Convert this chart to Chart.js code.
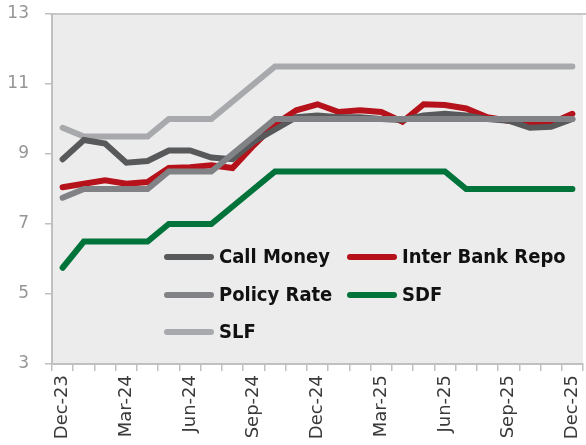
<!DOCTYPE html>
<html>
<head>
<meta charset="utf-8">
<script src="https://cdn.jsdelivr.net/npm/chart.js@4.4.1/dist/chart.umd.min.js"></script>
<style>
  html, body { margin: 0; padding: 0; background: #fff; }
  #wrap { width: 586px; height: 445px; }
</style>
</head>
<body>
<div id="wrap"><canvas id="rates"></canvas></div>
<script>
const months = ['Dec-23', 'Jan-24', 'Feb-24', 'Mar-24', 'Apr-24', 'May-24', 'Jun-24', 'Jul-24', 'Aug-24',
    'Sep-24', 'Oct-24', 'Nov-24', 'Dec-24', 'Jan-25', 'Feb-25', 'Mar-25', 'Apr-25', 'May-25', 'Jun-25',
    'Jul-25', 'Aug-25', 'Sep-25', 'Oct-25', 'Nov-25', 'Dec-25'];

const callMoney = [8.85, 9.4, 9.3, 8.75, 8.8, 9.1, 9.1, 8.9, 8.85, 9.35, 9.7, 10.05, 10.1,
    10.05, 10.05, 10.0, 9.97, 10.1, 10.15, 10.1, 10.0, 9.95, 9.75, 9.78, 10.0];
const interBankRepo = [8.05, 8.15, 8.25, 8.15, 8.2, 8.6, 8.62, 8.68, 8.6, 9.25, 9.85, 10.25, 10.42,
    10.2, 10.25, 10.2, 9.92, 10.42, 10.4, 10.3, 10.05, 9.95, 9.88, 9.88, 10.15];
const policyRate = [7.75, 8, 8, 8, 8, 8.5, 8.5, 8.5, 9, 9.5, 10, 10, 10,
    10, 10, 10, 10, 10, 10, 10, 10, 10, 10, 10, 10];
const sdf = [5.75, 6.5, 6.5, 6.5, 6.5, 7, 7, 7, 7.5, 8, 8.5, 8.5, 8.5,
    8.5, 8.5, 8.5, 8.5, 8.5, 8.5, 8, 8, 8, 8, 8, 8];
const slf = [9.75, 9.5, 9.5, 9.5, 9.5, 10, 10, 10, 10.5, 11, 11.5, 11.5, 11.5,
    11.5, 11.5, 11.5, 11.5, 11.5, 11.5, 11.5, 11.5, 11.5, 11.5, 11.5, 11.5];

const yTicks = [3, 5, 7, 9, 11, 13];

function line(label, data, color, order) {
    return {
        label: label,
        data: data,
        borderColor: color,
        backgroundColor: color,
        borderWidth: 6,
        pointRadius: 0,
        borderCapStyle: 'round',
        borderJoinStyle: 'miter',
        tension: 0,
        order: order
    };
}

// gray plot background + top border line
const plotBackground = {
    id: 'plotBackground',
    beforeDraw(chart) {
        const { ctx, chartArea: a } = chart;
        ctx.save();
        ctx.fillStyle = '#ececec';
        ctx.fillRect(a.left, a.top, a.right - a.left, a.bottom - a.top);
        ctx.strokeStyle = '#c8c8c8';
        ctx.lineWidth = 2;
        ctx.beginPath();
        ctx.moveTo(a.left, a.top);
        ctx.lineTo(chart.width, a.top);
        ctx.stroke();
        ctx.restore();
    }
};

// two-column legend drawn inside the plot
const innerLegend = {
    id: 'innerLegend',
    afterDraw(chart) {
        const ctx = chart.ctx;
        const cols = [167, 350];
        const rows = [257, 295, 332];
        ctx.save();
        ctx.font = 'bold 20px "Liberation Sans Narrow", "DejaVu Sans Condensed", sans-serif';
        ctx.textBaseline = 'middle';
        ctx.fillStyle = '#111';
        chart.data.datasets.forEach((ds, i) => {
            const x = cols[i % 2];
            const y = rows[Math.floor(i / 2)];
            ctx.strokeStyle = ds.borderColor;
            ctx.lineWidth = 6;
            ctx.lineCap = 'round';
            ctx.beginPath();
            ctx.moveTo(x, y);
            ctx.lineTo(x + 44, y);
            ctx.stroke();
            ctx.fillText(ds.label, x + 52, y + 1);
        });
        ctx.restore();
    }
};

const ctx = document.getElementById('rates').getContext('2d');
const ratesChart = new Chart(ctx, {
    type: 'line',
    data: {
        labels: months,
        datasets: [
            line('Call Money', callMoney, '#58595b', 2),
            line('Inter Bank Repo', interBankRepo, '#b5121b', 3),
            line('Policy Rate', policyRate, '#808285', 1),
            line('SDF', sdf, '#00733a', 4),
            line('SLF', slf, '#a7a9ac', 5)
        ]
    },
    options: {
        responsive: true,
        maintainAspectRatio: false,
        animation: false,
        layout: { padding: { top: 14, right: 3, left: 0, bottom: 0 } },
        plugins: {
            legend: { display: false },
            tooltip: { enabled: false }
        },
        scales: {
            x: {
                offset: true,
                afterFit: s => { s.height = 81; s.paddingLeft = 0; s.paddingRight = 0; },
                grid: {
                    offset: true,
                    drawOnChartArea: false,
                    drawTicks: true,
                    tickLength: 7,
                    color: '#c0c0c0',
                    lineWidth: 1.5
                },
                border: { color: '#c0c0c0', width: 2 },
                ticks: {
                    autoSkip: false,
                    maxRotation: 90,
                    minRotation: 90,
                    padding: 4,
                    color: '#3a3a3a',
                    font: { family: '"DejaVu Sans", sans-serif', size: 18 },
                    callback: (v, i) => (i % 3 === 0 ? months[i] : '')
                }
            },
            y: {
                min: 3,
                max: 13,
                afterFit: s => { s.width = 52; s.paddingTop = 0; s.paddingBottom = 0; },
                afterBuildTicks: s => { s.ticks = yTicks.map(v => ({ value: v })); },
                grid: {
                    drawOnChartArea: false,
                    drawTicks: true,
                    tickLength: 7,
                    color: '#c0c0c0',
                    lineWidth: 1.5
                },
                border: { color: '#c0c0c0', width: 2 },
                ticks: {
                    padding: 16,
                    color: '#969696',
                    font: { family: '"DejaVu Sans", sans-serif', size: 17 }
                }
            }
        }
    },
    plugins: [plotBackground, innerLegend]
});
</script>
</body>
</html>
